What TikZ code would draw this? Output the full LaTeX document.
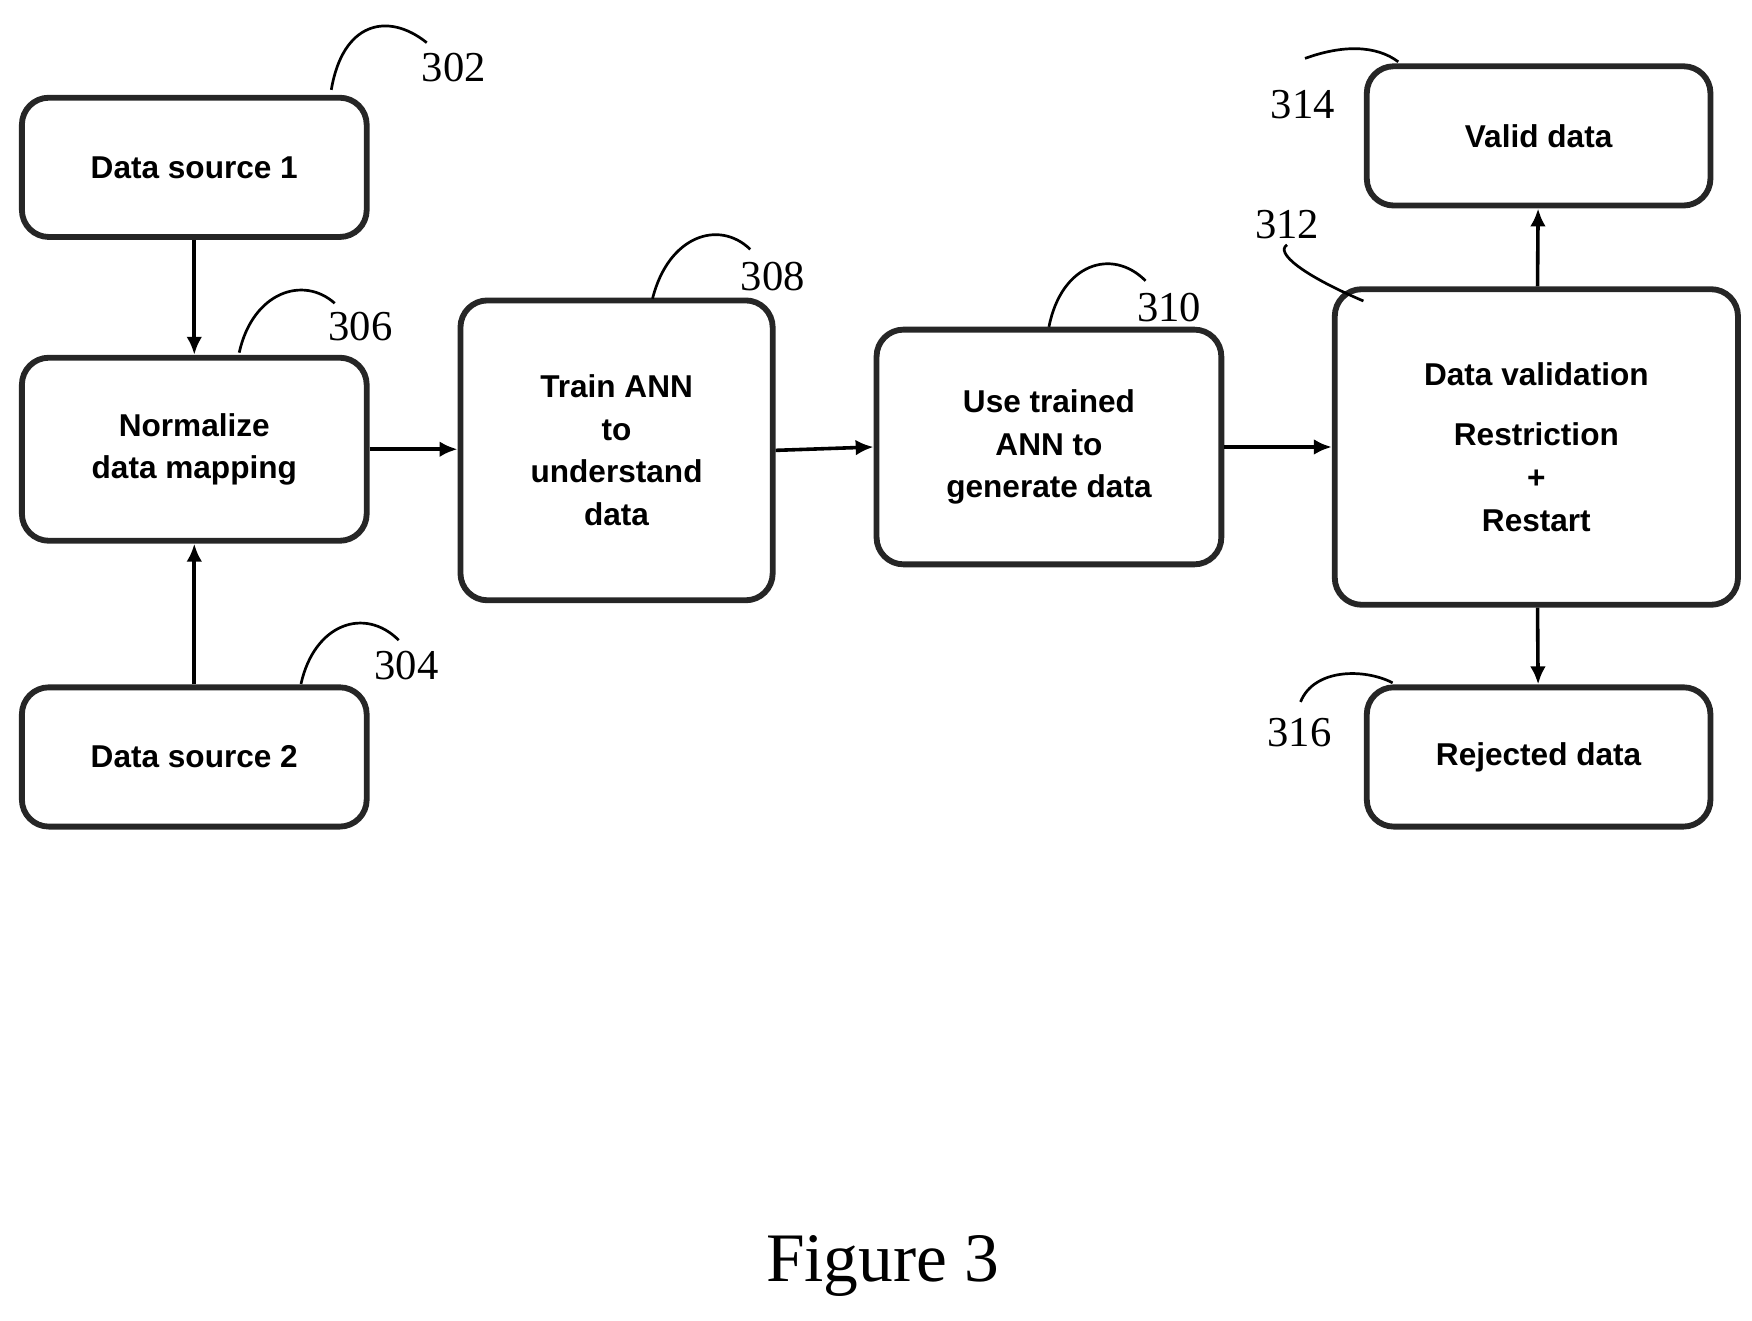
\documentclass[tikz,border=0pt]{standalone}
\usepackage{fontspec}
\setmainfont{Liberation Serif}
\setsansfont{Liberation Sans}
\usetikzlibrary{arrows.meta}
\begin{document}
\begin{tikzpicture}[x=0.25mm, y=-0.25mm,
  box/.style={draw=black!85, line width=1.3mm, rounded corners=6mm, align=center,
    font=\sffamily\bfseries\fontsize{20}{27}\selectfont, inner sep=0pt},
  flow/.style={-{Latex[length=4mm,width=3.5mm]}, line width=0.8mm},
  lead/.style={line width=0.6mm},
  num/.style={font=\fontsize{27}{27}\selectfont}]
				\useasboundingbox (0,0) rectangle (1560,1176);

				\node[box, minimum width=76.75mm, minimum height=31mm] (src1) at (173,149) {Data source 1};
				\node[box, minimum width=76.75mm, minimum height=40.75mm] (norm) at (173,400) {Normalize\\data mapping};
				\node[box, minimum width=76.75mm, minimum height=31mm] (src2) at (173,674) {Data source 2};
				\node[box, minimum width=69.5mm, minimum height=66.75mm] (train) at (549,401) {Train ANN\\to\\understand\\data};
				\node[box, minimum width=76.75mm, minimum height=52.25mm] (gen) at (934,398) {Use trained\\ANN to\\generate data};
				\node[box, minimum width=89.75mm, minimum height=70.25mm] (valid) at (1368,398) {Data validation\\[4mm]Restriction\\+\\Restart};
				\node[box, minimum width=76.5mm, minimum height=31mm] (ok) at (1370,121) {Valid data};
				\node[box, minimum width=76.5mm, minimum height=31mm] (rej) at (1370,674) {Rejected data};

				\draw[flow] (src1) -- (norm);
				\draw[flow] (src2) -- (norm);
				\draw[flow] (norm.east) -- (train.west |- norm.east);
				\draw[flow] (train.east) -- (gen.west);
				\draw[flow] (gen.east) -- (valid.west |- gen.east);
				\draw[flow] (valid) -- (ok);
				\draw[flow] (valid) -- (rej);

				% reference numerals
				\node[num] (n302) at (404,60) {302};
				\node[num] (n306) at (321,291) {306};
				\node[num] (n304) at (362,593) {304};
				\node[num] (n308) at (688,246) {308};
				\node[num] (n310) at (1041,274) {310};
				\node[num] (n312) at (1146,200) {312};
				\node[num] (n314) at (1160,93) {314};
				\node[num] (n316) at (1157,652) {316};

				\draw[lead] (295,80) .. controls (305,20) and (345,10) .. (380,38);
				\draw[lead] (213,314) .. controls (225,260) and (270,245) .. (298,270);
				\draw[lead] (268,609) .. controls (280,555) and (325,540) .. (355,570);
				\draw[lead] (581,266) .. controls (595,210) and (640,195) .. (668,222);
				\draw[lead] (934,291) .. controls (945,235) and (990,220) .. (1020,250);
				\draw[lead] (1214,268) .. controls (1160,245) and (1135,225) .. (1146,218);
				\draw[lead] (1245,55) .. controls (1225,40) and (1195,40) .. (1162,52);
				\draw[lead] (1240,608) .. controls (1215,595) and (1170,595) .. (1158,625);

				\node[font=\fontsize{44}{44}\selectfont] (fig) at (786,1127) {Figure 3};
			\end{tikzpicture}
\end{document}
